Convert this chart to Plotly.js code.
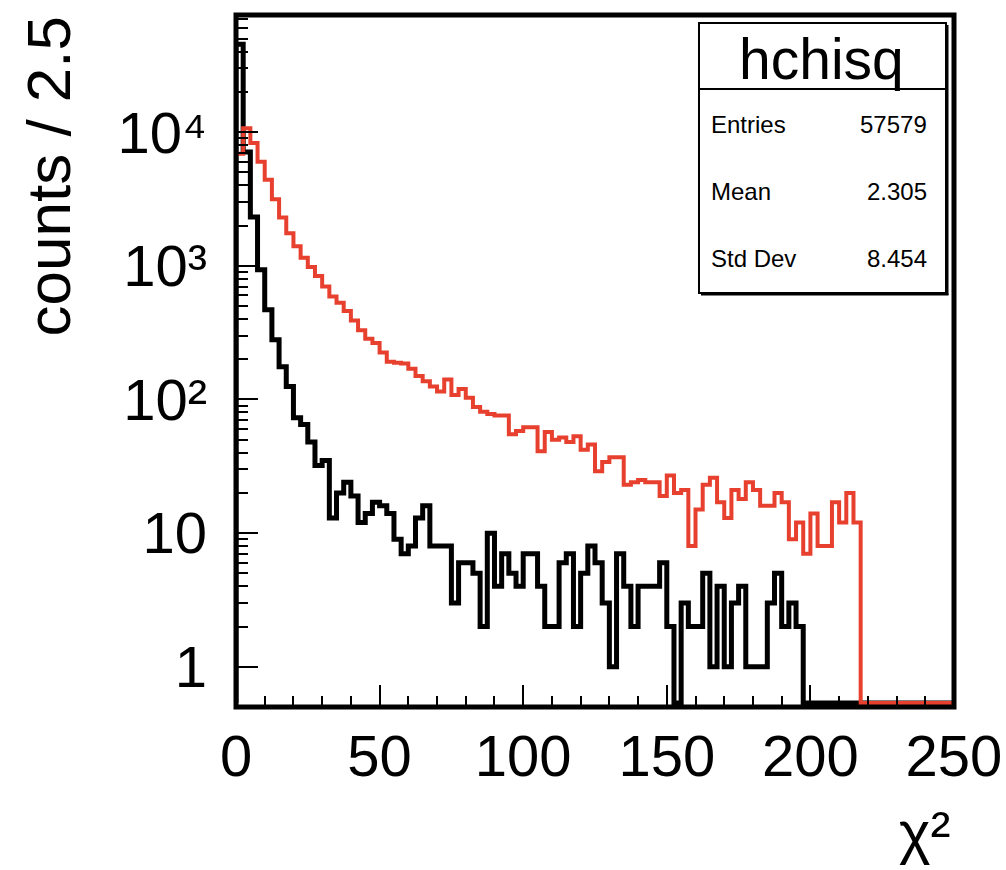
<!DOCTYPE html>
<html>
<head>
<meta charset="utf-8">
<script src="https://cdn.plot.ly/plotly-3.0.1.min.js"></script>
<style>
html,body{margin:0;padding:0;background:#fff;}
#chart{width:1006px;height:870px;}
</style>
</head>
<body>
<div id="chart"></div>
<script>
// ---- histogram definition ----
const xMin = 0;
const binWidth = 2.5;
const nBins = 100;

// hchisq (black) counts per bin, 0-250 in steps of 2.5
const blackCounts = [
  45500, 7100, 2320, 935, 470, 280, 176, 125, 73, 65,
  48, 32, 35, 13, 20, 24, 19, 12, 14, 17,
  16, 14, 9, 7, 8, 13, 16, 8, 8, 8,
  3, 6, 6, 5, 2, 10, 4, 7, 5, 4,
  7, 7, 4, 2, 2, 6, 7, 2, 5, 8,
  6, 3, 1, 7, 4, 2, 4, 4, 4, 6,
  2, 0, 3, 2, 2, 5, 1, 4, 1, 3,
  4, 1, 1, 1, 3, 5, 2, 3, 2, 0,
  0, 0, 0, 0, 0, 0, 0, 0, 0, 0,
  0, 0, 0, 0, 0, 0, 0, 0, 0, 0
];

// second histogram (red) counts per bin
const redCounts = [
  6900, 10700, 8300, 6000, 4400, 3150, 2300, 1750, 1400, 1150,
  980, 840, 700, 590, 530, 460, 390, 330, 285, 265,
  225, 192, 188, 186, 170, 150, 137, 125, 115, 141,
  108, 120, 103, 88, 81, 78, 76, 76, 55, 58,
  62, 62, 41, 57, 50, 52, 48, 53, 42, 46,
  29, 34, 37, 37, 23, 24, 25, 24, 24, 19,
  27, 20, 21, 8, 15, 23, 26, 17, 13, 21,
  18, 24, 21, 16, 16, 20, 17, 9, 12, 7,
  14, 8, 8, 17, 12, 20, 12, 0, 0, 0,
  0, 0, 0, 0, 0, 0, 0, 0, 0, 0
];

// tick labels
const xTickVals = [0, 50, 100, 150, 200, 250];
const yTickVals = [1, 10, 100, 1000, 10000];
const yTickText = ['1', '10', '10\u00b2', '10\u00b3', '10\u2074'];

// stats box text
const statsTitle = 'hchisq';
const statsLabels = ['Entries', 'Mean', 'Std Dev'];
const statsValues = ['57579', '2.305', '8.454'];

const yTitle = 'counts / 2.5';
const xTitle = '\u03c7\u00b2';

// ---- construction ----
const yLogRange = [Math.log10(0.5), 4.877];
// empty bins are drawn just above the bottom frame edge, as ROOT does
const yFloor = Math.pow(10, yLogRange[0] + 0.03);

function stepTrace(counts, color, width) {
  const xs = [xMin];
  const ys = [yFloor];
  for (let i = 0; i < counts.length; i++) {
    xs.push(xMin + i * binWidth);
    ys.push(counts[i] > 0 ? counts[i] : yFloor);
  }
  xs.push(xMin + counts.length * binWidth);
  ys.push(yFloor);
  return {
    x: xs, y: ys, type: 'scatter', mode: 'lines',
    line: {shape: 'hv', color: color, width: width},
    hoverinfo: 'skip'
  };
}

const minorY = [];
for (let d = 0; d < 5; d++) {
  for (let k = 2; k <= 9; k++) minorY.push(k * Math.pow(10, d));
}

const FONT = 'Liberation Sans, Arial, Helvetica, DejaVu Sans, sans-serif';

// paper-coordinate helpers for layout placement (plot area px: x 236..954, y 15..707)
const L = 236, R = 954, T = 15, B = 707;
const px = v => (v - L) / (R - L);
const py = v => (B - v) / (B - T);

const shapes = [
  // plot frame
  {type: 'rect', xref: 'paper', yref: 'paper', x0: 0, x1: 1, y0: 0, y1: 1,
   line: {color: 'black', width: 5}, layer: 'above'},
  // stats box
  {type: 'rect', xref: 'paper', yref: 'paper', x0: px(699), x1: px(946), y0: py(293), y1: py(23),
   line: {color: 'black', width: 2}, fillcolor: 'white', layer: 'above'},
  {type: 'line', xref: 'paper', yref: 'paper', x0: px(699), x1: px(946), y0: py(89), y1: py(89),
   line: {color: 'black', width: 2}, layer: 'above'},
  {type: 'line', xref: 'paper', yref: 'paper', x0: px(947.5), x1: px(947.5), y0: py(295), y1: py(25),
   line: {color: 'black', width: 2}, layer: 'above'},
  {type: 'line', xref: 'paper', yref: 'paper', x0: px(701), x1: px(948.5), y0: py(294.5), y1: py(294.5),
   line: {color: 'black', width: 2}, layer: 'above'}
];

const annotations = [
  {text: statsTitle, xref: 'paper', yref: 'paper', x: px(821), y: py(59),
   xanchor: 'center', yanchor: 'middle', showarrow: false,
   font: {family: FONT, size: 57, color: 'black'}},
  {text: yTitle, xref: 'paper', yref: 'paper', x: px(48), y: py(14),
   xanchor: 'center', yanchor: 'top', textangle: -90, showarrow: false,
   font: {family: FONT, size: 62, color: 'black'}},
  {text: xTitle, xref: 'paper', yref: 'paper', x: px(952), y: py(832),
   xanchor: 'right', yanchor: 'middle', showarrow: false,
   font: {family: FONT, size: 60, color: 'black'}}
];
const rowY = [124, 191, 258];
for (let i = 0; i < statsLabels.length; i++) {
  annotations.push({text: statsLabels[i], xref: 'paper', yref: 'paper', x: px(709), y: py(rowY[i]),
    xanchor: 'left', yanchor: 'middle', showarrow: false,
    font: {family: FONT, size: 24, color: 'black'}});
  annotations.push({text: statsValues[i], xref: 'paper', yref: 'paper', x: px(929), y: py(rowY[i]),
    xanchor: 'right', yanchor: 'middle', showarrow: false,
    font: {family: FONT, size: 24, color: 'black'}});
}

const layout = {
  width: 1006, height: 870,
  margin: {l: L, r: 1006 - R, t: T, b: 870 - B, pad: 0},
  paper_bgcolor: 'white', plot_bgcolor: 'white',
  showlegend: false,
  xaxis: {
    range: [0, 250], tickmode: 'array', tickvals: xTickVals,
    ticks: 'inside', ticklen: 22, tickwidth: 2, tickcolor: 'black',
    showgrid: false, zeroline: false, showline: false,
    tickfont: {family: FONT, size: 58, color: 'black'},
    ticklabelstandoff: 10,
    minor: {ticks: 'inside', dtick: 10, ticklen: 11, tickwidth: 2, tickcolor: 'black', showgrid: false}
  },
  yaxis: {
    type: 'log', range: yLogRange, tickmode: 'array', tickvals: yTickVals, ticktext: yTickText,
    ticks: 'inside', ticklen: 22, tickwidth: 2, tickcolor: 'black',
    showgrid: false, zeroline: false, showline: false,
    tickfont: {family: FONT, size: 58, color: 'black'},
    ticklabelstandoff: 28,
    minor: {ticks: 'inside', tickmode: 'array', tickvals: minorY, ticklen: 12, tickwidth: 2, tickcolor: 'black', showgrid: false}
  },
  shapes: shapes,
  annotations: annotations
};

const traces = [
  stepTrace(blackCounts, 'black', 5),
  stepTrace(redCounts, '#e8402f', 4)
];

Plotly.newPlot('chart', traces, layout, {staticPlot: true, displayModeBar: false});
</script>
</body>
</html>
